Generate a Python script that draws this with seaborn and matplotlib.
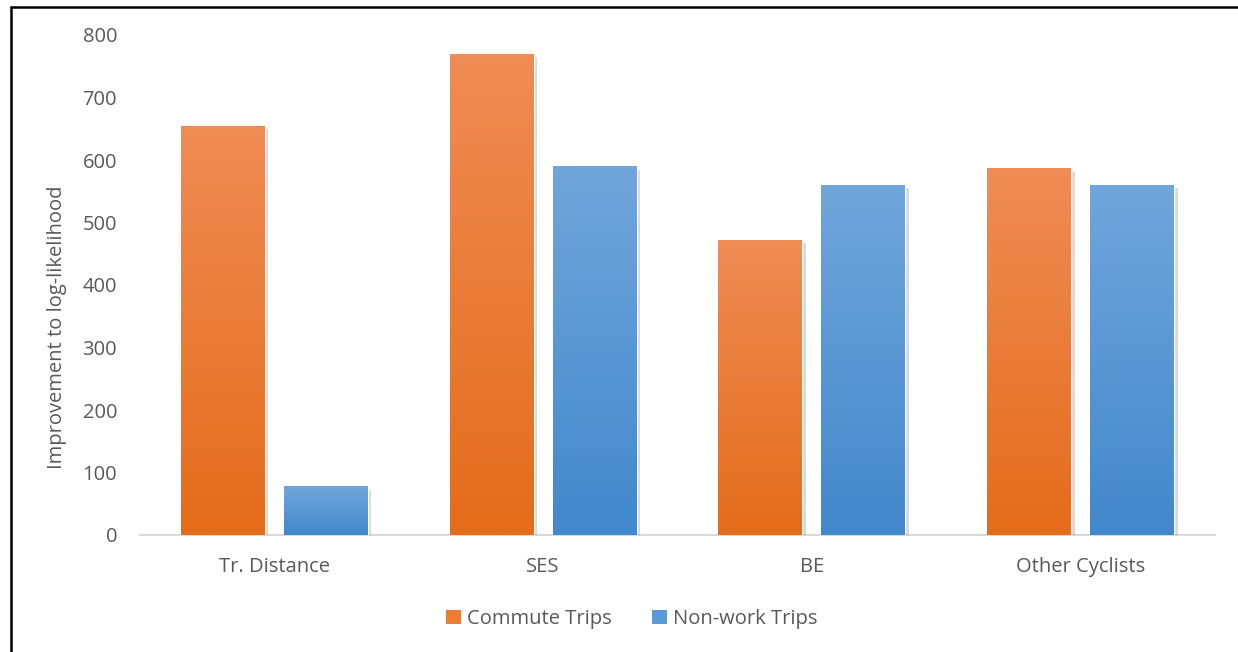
import numpy as np
import pandas as pd
import matplotlib
matplotlib.use("Agg")
import matplotlib.pyplot as plt
import matplotlib.patheffects as pe
from matplotlib.colors import LinearSegmentedColormap
from matplotlib.lines import Line2D
from matplotlib.patches import Patch
import seaborn as sns

categories = ["Tr. Distance", "SES", "BE", "Other Cyclists"]
series_names = ["Commute Trips", "Non-work Trips"]
commute = [655, 770, 472, 587]
nonwork = [78, 590, 560, 560]
yticks = [0, 100, 200, 300, 400, 500, 600, 700, 800]

df = pd.DataFrame({
    "category": categories * 2,
    "series": [series_names[0]] * 4 + [series_names[1]] * 4,
    "value": commute + nonwork,
})

sns.set_theme(style="white")
plt.rcParams["font.family"] = ["Open Sans", "DejaVu Sans"]
FS = 14.5

palette = {"Commute Trips": "#ED7D31", "Non-work Trips": "#5B9BD5"}
grad = {
    "Commute Trips": ("#F08C55", "#E46C1A"),
    "Non-work Trips": ("#70A6DB", "#4288CC"),
}

fig = plt.figure(figsize=(12.38, 6.52), dpi=100)
ax = fig.add_axes([140 / 1238, 1 - 535 / 652, (1215 - 140) / 1238, 500 / 652])

sns.barplot(data=df, x="category", y="value", hue="series", order=categories,
            hue_order=series_names, palette=palette, width=0.766, gap=0.185,
            ax=ax, legend=False, saturation=1)

ax.set_xlim(-0.5, 3.5)
ax.set_ylim(0, 800)
ax.set_yticks(yticks)
ax.set_yticklabels([str(t) for t in yticks])

# gradients + shadows
for cont, name in zip(ax.containers, series_names):
    c_top, c_bot = grad[name]
    cmap = LinearSegmentedColormap.from_list(name, [c_bot, c_top])
    for bar in cont:
        bar.set_path_effects([pe.SimplePatchShadow(offset=(2.5, -2.5), shadow_rgbFace="#000000", alpha=0.15),
                              pe.Normal()])
        x0, w = bar.get_x(), bar.get_width()
        h = bar.get_height()
        im = ax.imshow(np.linspace(0, 1, 256).reshape(-1, 1), cmap=cmap, origin="lower",
                       extent=[x0, x0 + w, 0, h], aspect="auto", zorder=bar.get_zorder() + 0.1)
        im.set_clip_path(bar)
ax.set_xlim(-0.5, 3.5)
ax.set_ylim(0, 800)

for s in ["top", "right", "left"]:
    ax.spines[s].set_visible(False)
ax.spines["bottom"].set_color("#D9D9D9")
ax.spines["bottom"].set_linewidth(1.5)
ax.spines["bottom"].set_zorder(0.5)

ax.tick_params(axis="both", length=0, colors="#595959", labelsize=FS)
ax.tick_params(axis="y", pad=16.5)
ax.tick_params(axis="x", pad=15.5)
ax.set_xlabel("")
ax.set_ylabel("Improvement to log-likelihood", color="#595959", fontsize=FS)
ax.yaxis.set_label_coords(-0.068, 0.416)

handles = [Patch(facecolor=palette[n], edgecolor="none") for n in series_names]
fig.legend(handles, series_names, loc="center", bbox_to_anchor=(632 / 1238, 1 - 619 / 652),
           ncol=2, frameon=False, fontsize=FS, labelcolor="#595959",
           handlelength=0.75, handleheight=0.75, handletextpad=0.3, columnspacing=2.0)

# figure border (top and left visible)
fig.add_artist(Line2D([11 / 1238, 11 / 1238], [0, 1 - 7 / 652], transform=fig.transFigure,
                      color="black", linewidth=1.8))
fig.add_artist(Line2D([11 / 1238, 1], [1 - 7 / 652, 1 - 7 / 652], transform=fig.transFigure,
                      color="black", linewidth=1.8))

fig.savefig("out.png", dpi=100)
